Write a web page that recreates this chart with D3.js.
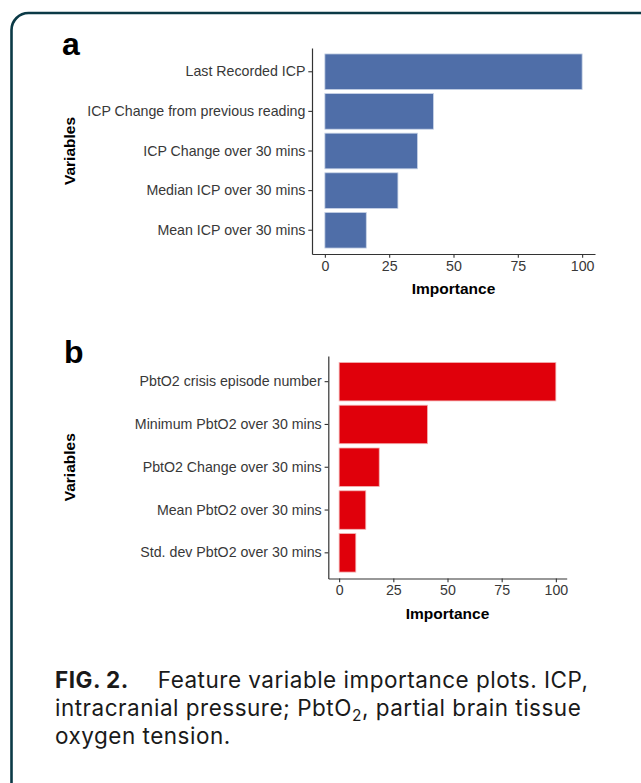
<!DOCTYPE html>
<html>
<head>
<meta charset="utf-8">
<script src="https://cdn.jsdelivr.net/npm/d3@7"></script>
<style>
  body { margin: 0; background: #fff; }
  svg { display: block; }
</style>
</head>
<body>
<div class="chart"></div>
<script>
const WIDTH = 641, HEIGHT = 783;

// panel a
const icpVars = ["Last Recorded ICP", "ICP Change from previous reading", "ICP Change over 30 mins",
  "Median ICP over 30 mins", "Mean ICP over 30 mins"];
const icpImportance = [100, 42.2, 36.0, 28.4, 16.1];

// panel b
const pbtVars = ["PbtO2 crisis episode number", "Minimum PbtO2 over 30 mins", "PbtO2 Change over 30 mins",
  "Mean PbtO2 over 30 mins", "Std. dev PbtO2 over 30 mins"];
const pbtImportance = [100, 40.8, 18.5, 12.3, 7.7];

const xTicks = [0, 25, 50, 75, 100];
const xDomain = [-5, 105];

const FONT = "'Liberation Sans', Arial, Helvetica, sans-serif";
const TICK_COLOR = "#383838";
const AXIS_COLOR = "#333333";

var svg = d3.select(".chart")
  .append("svg")
  .attr("width", WIDTH)
  .attr("height", HEIGHT);

// rounded frame around figure
svg.append("rect")
  .attr("x", 11.5)
  .attr("y", 13)
  .attr("width", 660)
  .attr("height", 790)
  .attr("rx", 17)
  .attr("fill", "none")
  .attr("stroke", "#0b3a46")
  .attr("stroke-width", 2.6);

function drawPanel(p) {
  const g = svg.append("g");

  const y = d3.scaleBand()
    .domain(p.vars)
    .range([p.top, p.bottom])
    .paddingInner(0.1)
    .paddingOuter(0.15);

  const x = d3.scaleLinear()
    .domain(xDomain)
    .range([p.left, p.right]);

  g.selectAll("rect.bar")
    .data(p.values)
    .enter()
    .append("rect")
    .attr("class", "bar")
    .attr("x", x(0))
    .attr("y", (d, i) => y(p.vars[i]))
    .attr("width", d => x(d) - x(0))
    .attr("height", y.bandwidth())
    .attr("fill", p.color)
    .attr("stroke", p.edge)
    .attr("stroke-width", 0.8);

  const yAxis = g.append("g")
    .attr("transform", `translate(${p.left},0)`)
    .call(d3.axisLeft(y).tickSize(3.7).tickSizeOuter(0).tickPadding(2.9));

  const xAxis = g.append("g")
    .attr("transform", `translate(0,${p.bottom})`)
    .call(d3.axisBottom(x).tickValues(xTicks).tickSize(3.7).tickSizeOuter(0).tickPadding(2.9));

  [yAxis, xAxis].forEach(a => {
    a.select(".domain").attr("stroke", AXIS_COLOR).attr("stroke-width", 1.2);
    a.selectAll(".tick line").attr("stroke", AXIS_COLOR).attr("stroke-width", 1.1);
    a.selectAll(".tick text")
      .attr("fill", TICK_COLOR)
      .style("font-family", FONT)
      .style("font-size", "14.2px");
  });

  // axis titles
  g.append("text")
    .attr("x", (x(0) + x(100)) / 2)
    .attr("y", p.bottom + 40)
    .attr("text-anchor", "middle")
    .style("font-family", FONT)
    .style("font-size", "15.5px")
    .style("font-weight", "bold")
    .text("Importance");

  g.append("text")
    .attr("transform", `translate(75,${(p.top + p.bottom) / 2}) rotate(-90)`)
    .attr("text-anchor", "middle")
    .style("font-family", FONT)
    .style("font-size", "15.5px")
    .style("font-weight", "bold")
    .text("Variables");

  // panel letter
  g.append("text")
    .attr("x", p.letterX)
    .attr("y", p.letterY)
    .style("font-family", FONT)
    .style("font-size", "32px")
    .style("font-weight", "bold")
    .text(p.letter);
}

drawPanel({
  vars: icpVars, values: icpImportance, color: "#4f6ea8", edge: "#c8d3e6",
  left: 312, right: 595, top: 48, bottom: 254,
  letter: "a", letterX: 62, letterY: 55
});

drawPanel({
  vars: pbtVars, values: pbtImportance, color: "#e0000b", edge: "#f3b5b5",
  left: 328.3, right: 566.7, top: 356, bottom: 578.5,
  letter: "b", letterX: 64, letterY: 363
});

// caption
const CAP_FONT = "Inter, 'Open Sans', sans-serif";
const cap = svg.append("g")
  .style("font-family", CAP_FONT)
  .style("font-size", "22.5px")
  .style("letter-spacing", "0.5px")
  .attr("fill", "#1a1a1a");

const l1 = cap.append("text").attr("x", 55).attr("y", 688);
l1.append("tspan").style("font-weight", "bold").text("FIG. 2.");
l1.append("tspan").attr("dx", 29).text("Feature variable importance plots. ICP,");

const l2 = cap.append("text").attr("x", 55).attr("y", 716);
l2.append("tspan").text("intracranial pressure; PbtO");
l2.append("tspan").attr("dy", 5).style("font-size", "15.5px").text("2");
l2.append("tspan").attr("dy", -5).text(", partial brain tissue");

cap.append("text").attr("x", 55).attr("y", 744).text("oxygen tension.");
</script>
</body>
</html>
